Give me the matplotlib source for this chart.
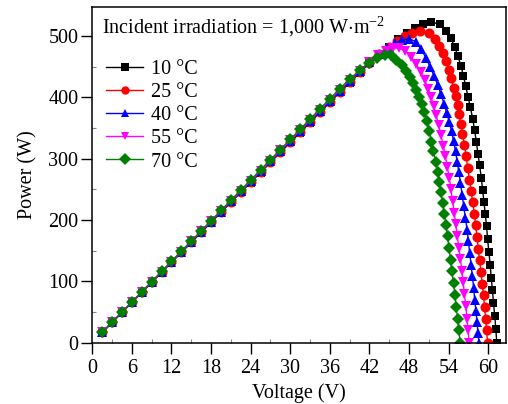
import matplotlib
matplotlib.use("Agg")
import matplotlib.pyplot as plt
from matplotlib.ticker import MultipleLocator

plt.rcParams['font.family'] = ['Liberation Serif', 'DejaVu Serif']
plt.rcParams['mathtext.fontset'] = 'custom'
plt.rcParams['mathtext.rm'] = 'Liberation Serif'
plt.rcParams['mathtext.it'] = 'Liberation Serif:italic'

# Shared voltage grid of the linear (constant-current) part of every curve
v_rise = [1.5, 3.0, 4.5, 6.0, 7.5, 9.0, 10.5, 12.0, 13.5, 15.0, 16.5, 18.0, 19.5,
          21.0, 22.5, 24.0, 25.5, 27.0, 28.5, 30.0, 31.5, 33.0, 34.5, 36.0, 37.5, 39.0]

# 10 °C
p10_rise = [16.3, 32.6, 49.0, 65.3, 81.6, 97.9, 114.2, 130.6, 146.9, 163.2, 179.5, 195.8, 212.2,
            228.5, 244.8, 261.1, 277.4, 293.8, 310.1, 326.4, 342.7, 359.0, 375.4, 391.7, 408.0, 424.0]
v10_knee = [40.5, 42.0, 43.5, 45.0, 46.4, 47.7, 48.9, 50.1, 51.3, 52.7, 53.6, 54.3, 54.9, 55.4,
            55.85, 56.25, 56.6, 56.95, 57.3, 57.65, 57.95, 58.2, 58.45, 58.7, 58.95, 59.15, 59.35,
            59.55, 59.75, 59.9, 60.1, 60.3, 60.45, 60.65, 60.8, 61.0, 61.15, 61.3]
p10_knee = [440.0, 455.5, 469.5, 482.5, 494.5, 505.0, 513.0, 519.5, 523.5, 519.0, 509.0, 497.0, 483.0, 468.0,
            452.0, 435.0, 418.0, 401.0, 384.0, 365.0, 346.0, 327.0, 308.0, 289.0, 269.0, 249.0, 230.0,
            210.0, 190.0, 169.0, 148.0, 127.0, 106.0, 85.0, 64.0, 43.0, 22.0, 0.0]

# 25 °C
p25_rise = [16.4, 32.8, 49.1, 65.5, 81.9, 98.3, 114.7, 131.0, 147.4, 163.8, 180.2, 196.6, 212.9,
            229.3, 245.7, 262.1, 278.5, 294.8, 311.2, 327.6, 344.0, 360.4, 376.7, 393.1, 409.5, 425.5]
v25_knee = [40.5, 42.0, 43.5, 44.9, 46.2, 47.4, 48.5, 49.6, 51.0, 51.9, 52.6, 53.15, 53.6, 54.05,
            54.4, 54.75, 55.05, 55.35, 55.6, 55.85, 56.1, 56.4, 56.65, 56.9, 57.15, 57.4, 57.65,
            57.9, 58.1, 58.3, 58.5, 58.7, 58.9, 59.1, 59.3, 59.45, 59.6, 59.75, 59.9]
p25_knee = [441.0, 456.0, 470.0, 482.0, 492.0, 500.0, 505.5, 508.5, 505.0, 495.0, 484.0, 472.0, 459.0, 445.0,
            431.0, 416.0, 402.0, 388.0, 373.0, 357.0, 340.0, 322.0, 304.0, 285.0, 266.0, 247.0, 229.0,
            210.0, 191.0, 172.0, 153.0, 134.0, 115.0, 96.0, 77.0, 58.0, 39.0, 20.0, 0.0]

# 40 °C
p40_rise = [16.4, 32.9, 49.3, 65.8, 82.2, 98.6, 115.1, 131.5, 148.0, 164.4, 180.8, 197.3, 213.7,
            230.2, 246.6, 263.0, 279.5, 295.9, 312.4, 328.8, 345.2, 361.7, 378.1, 394.6, 411.0, 427.0]
v40_knee = [40.5, 42.0, 43.4, 44.7, 45.8, 46.9, 48.0, 49.0, 49.8, 50.55, 51.2, 51.8, 52.35, 52.85,
            53.3, 53.7, 54.1, 54.45, 54.75, 55.05, 55.3, 55.55, 55.8, 56.05, 56.3, 56.55, 56.8,
            57.0, 57.2, 57.4, 57.6, 57.8, 57.95, 58.15, 58.3, 58.45, 58.6]
p40_knee = [442.5, 457.0, 470.0, 480.5, 488.0, 493.5, 496.0, 491.0, 479.0, 465.0, 450.0, 435.0, 420.0, 405.0,
            390.0, 375.0, 360.0, 345.0, 329.0, 312.0, 295.0, 278.0, 260.0, 241.0, 222.0, 203.0, 184.0,
            165.0, 146.0, 127.0, 108.0, 89.0, 70.0, 51.0, 33.0, 15.0, 0.0]

# 55 °C
p55_rise = [16.5, 33.0, 49.5, 66.0, 82.5, 99.0, 115.5, 132.0, 148.5, 165.0, 181.5, 198.0, 214.5,
            231.0, 247.5, 264.0, 280.5, 297.0, 313.5, 330.0, 346.5, 363.0, 379.5, 396.0, 412.5, 428.5]
v55_knee = [40.5, 41.9, 43.3, 44.5, 45.5, 46.5, 47.4, 48.3, 49.1, 49.8, 50.4, 50.9, 51.35, 51.75,
            52.1, 52.5, 52.85, 53.2, 53.5, 53.8, 54.1, 54.35, 54.6, 54.85, 55.1, 55.3, 55.55,
            55.8, 56.0, 56.2, 56.4, 56.6, 56.8, 56.95, 57.1]
p55_knee = [443.5, 457.0, 468.5, 476.0, 480.0, 481.0, 476.0, 466.0, 454.0, 441.0, 428.0, 414.0, 400.0, 386.0,
            371.0, 355.0, 338.0, 321.0, 304.0, 287.0, 269.0, 250.0, 231.0, 212.0, 193.0, 174.0, 155.0,
            136.0, 117.0, 98.0, 79.0, 59.0, 39.0, 20.0, 0.0]

# 70 °C
p70_rise = [16.6, 33.2, 49.7, 66.3, 82.9, 99.5, 116.0, 132.6, 149.2, 165.8, 182.3, 198.9, 215.5,
            232.1, 248.6, 265.2, 281.8, 298.4, 314.9, 331.5, 348.1, 364.7, 381.2, 397.8, 414.4, 430.0]
v70_knee = [40.5, 41.9, 43.2, 44.3, 45.2, 46.1, 46.9, 47.5, 48.1, 48.6, 49.1, 49.5, 49.9, 50.3,
            50.7, 51.05, 51.4, 51.7, 52.05, 52.35, 52.6, 52.85, 53.1, 53.35, 53.6, 53.85, 54.05,
            54.3, 54.5, 54.75, 54.95, 55.15, 55.35, 55.55, 55.75]
p70_knee = [444.0, 456.0, 464.5, 468.5, 469.0, 461.0, 453.0, 443.0, 434.0, 423.0, 412.0, 401.0, 389.0, 376.0,
            361.0, 345.0, 328.0, 312.0, 295.0, 279.0, 262.0, 245.0, 228.0, 210.0, 192.0, 173.0, 154.0,
            135.0, 116.0, 97.0, 78.0, 58.0, 39.0, 20.0, 0.0]

labels = ['10 \u00b0C', '25 \u00b0C', '40 \u00b0C', '55 \u00b0C', '70 \u00b0C']
colors = ['#000000', '#ff0000', '#0000ff', '#ff00ff', '#008000']
markers = ['s', 'o', '^', 'v', 'D']
msizes = [6.2, 7.2, 7.6, 7.6, 6.6]

series = [
    (v_rise + v10_knee, p10_rise + p10_knee),
    (v_rise + v25_knee, p25_rise + p25_knee),
    (v_rise + v40_knee, p40_rise + p40_knee),
    (v_rise + v55_knee, p55_rise + p55_knee),
    (v_rise + v70_knee, p70_rise + p70_knee),
]

fig = plt.figure(figsize=(5.08, 4.04), dpi=100)
ax = fig.add_axes([0.1817, 0.1522, 0.8144, 0.8297])

for (v, p), lab, c, m, ms in zip(series, labels, colors, markers, msizes):
    ax.plot(v, p, color=c, marker=m, markersize=ms, linewidth=1.0,
            markeredgewidth=0, label=lab)

ax.set_xlim(0, 62.7)
ax.set_ylim(0, 547)
ax.xaxis.set_major_locator(MultipleLocator(6))
ax.xaxis.set_minor_locator(MultipleLocator(3))
ax.yaxis.set_major_locator(MultipleLocator(100))
ax.yaxis.set_minor_locator(MultipleLocator(50))
ax.tick_params(which='major', direction='out', length=8, width=1.0, labelsize=14.5)
ax.tick_params(axis='x', which='major', pad=4)
ax.tick_params(axis='y', which='major', pad=2)
ax.tick_params(which='minor', direction='in', length=3, width=0.8, color='#888888')
for s in ax.spines.values():
    s.set_linewidth(1.1)

ax.set_xlabel('Voltage (V)', fontsize=14.5, labelpad=4)
ax.set_ylabel('Power (W)', fontsize=14.5, labelpad=8)

ax.text(0.023, 0.94, r'Incident irradiation = 1,000 W$\cdot$m$^{-2}$',
        transform=ax.transAxes, fontsize=14.5, va='center', ha='left')

leg = ax.legend(loc='upper left', bbox_to_anchor=(0.019, 0.861), frameon=False,
                fontsize=14.5, handlelength=1.85, handletextpad=0.35,
                labelspacing=0.2, borderaxespad=0.0, borderpad=0.3)
for h in leg.legend_handles:
    h.set_markersize(6)

fig.savefig('out.png', dpi=100)
